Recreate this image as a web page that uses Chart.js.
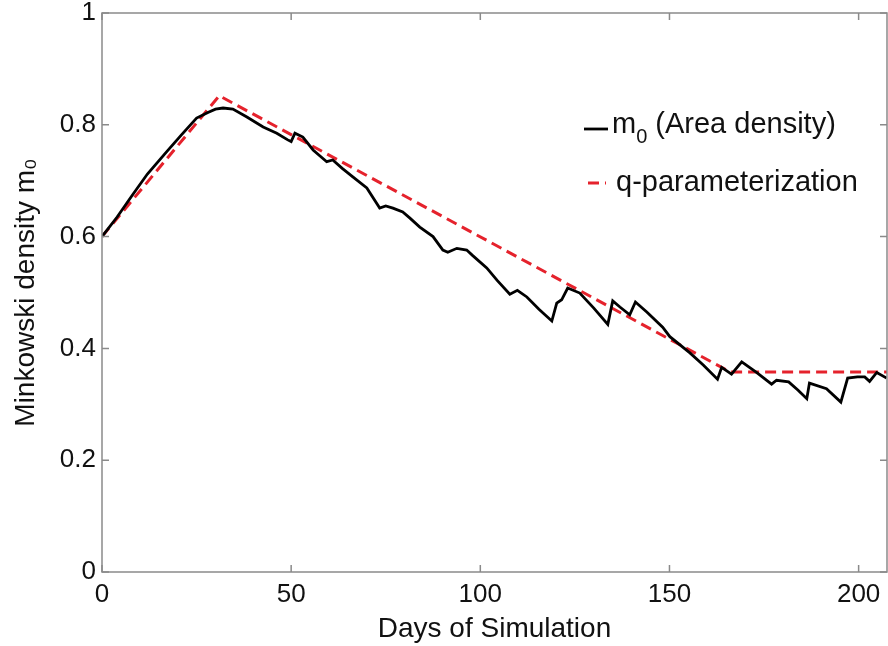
<!DOCTYPE html>
<html>
<head>
<meta charset="utf-8">
<script src="https://cdn.jsdelivr.net/npm/chart.js@4.4.1/dist/chart.umd.min.js"></script>
<style>
  html, body { margin: 0; padding: 0; background: #fff; }
  #wrap { width: 888px; height: 646px; position: relative; }
</style>
</head>
<body>
<div id="wrap"><canvas id="c" width="888" height="646"></canvas></div>
<script>
// ---- data ----
const days = [0, 4, 8, 12, 17, 21, 25, 28, 30, 32, 34.6, 38.3, 42.6, 46.2, 49.1, 50, 51, 53.1, 55.8, 59.4,
  61, 63.5, 66.3, 70, 73.4, 75, 76.9, 79.5, 81.4, 84, 87.5, 90.1, 91.4, 93.8, 96.4, 98, 101.7, 104.4,
  107.8, 109.8, 112.3, 115.5, 118.9, 120.2, 121.5, 123.1, 126.3, 130, 133.7, 135, 136.9, 139.5, 141,
  144, 148.2, 150.1, 155.4, 159, 162.7, 163.8, 166.4, 169.1, 173, 177, 178.3, 181.5, 184, 186.3, 187,
  191.5, 195.3, 197.1, 199.7, 201.6, 202.9, 204.8, 207.4];
const areaDensity = [0.600, 0.635, 0.674, 0.712, 0.751, 0.782, 0.812, 0.822, 0.828, 0.830, 0.828, 0.814,
  0.796, 0.785, 0.773, 0.770, 0.785, 0.778, 0.755, 0.734, 0.737, 0.722, 0.707, 0.687, 0.651, 0.655,
  0.651, 0.644, 0.633, 0.617, 0.600, 0.576, 0.572, 0.579, 0.576, 0.566, 0.544, 0.522, 0.497, 0.504,
  0.492, 0.470, 0.449, 0.481, 0.487, 0.508, 0.499, 0.472, 0.443, 0.485, 0.474, 0.460, 0.483, 0.465,
  0.438, 0.421, 0.392, 0.370, 0.345, 0.366, 0.354, 0.376, 0.357, 0.336, 0.343, 0.340, 0.325, 0.310,
  0.338, 0.328, 0.304, 0.347, 0.349, 0.349, 0.341, 0.357, 0.347];
const qDays = [0, 31, 166, 207.5];
const qValues = [0.600, 0.852, 0.358, 0.358];
const xTicks = [0, 50, 100, 150, 200];
const yTicks = [0, 0.2, 0.4, 0.6, 0.8, 1];
const seriesLabels = ['m₀ (Area density)', 'q-parameterization'];

const FONT = '"Liberation Sans", Arial, Helvetica, sans-serif';
const AXIS_COLOR = '#8a8a8a';

const boxAndLegend = {
  id: 'boxAndLegend',
  afterDraw(chart) {
    const ctx = chart.ctx;
    const a = chart.chartArea;
    const xs = chart.scales.x, ys = chart.scales.y;
    ctx.save();
    // frame
    ctx.strokeStyle = AXIS_COLOR;
    ctx.lineWidth = 1.5;
    ctx.strokeRect(a.left, a.top, a.right - a.left, a.bottom - a.top);
    // inward ticks
    const tl = 7;
    ctx.beginPath();
    xs.ticks.forEach(t => {
      const px = xs.getPixelForValue(t.value);
      ctx.moveTo(px, a.bottom); ctx.lineTo(px, a.bottom - tl);
      ctx.moveTo(px, a.top); ctx.lineTo(px, a.top + tl);
    });
    ys.ticks.forEach(t => {
      const py = ys.getPixelForValue(t.value);
      ctx.moveTo(a.left, py); ctx.lineTo(a.left + tl, py);
      ctx.moveTo(a.right, py); ctx.lineTo(a.right - tl, py);
    });
    ctx.stroke();

    // legend
    const lx = a.left + 482;
    const rows = [a.top + 115, a.top + 170];
    chart.data.datasets.forEach((ds, i) => {
      const y = rows[i];
      ctx.strokeStyle = ds.borderColor;
      ctx.lineWidth = ds.borderWidth;
      ctx.setLineDash(ds.borderDash || []);
      ctx.beginPath();
      if (i === 0) { ctx.moveTo(lx, y + 1); ctx.lineTo(lx + 24, y + 1); }
      else { ctx.moveTo(lx + 4, y); ctx.lineTo(lx + 22, y); }
      ctx.stroke();
      ctx.setLineDash([]);
      ctx.fillStyle = '#111';
      ctx.textBaseline = 'middle';
      ctx.textAlign = 'left';
      ctx.font = '29px ' + FONT;
      if (i === 0) {
        let x = lx + 28;
        ctx.fillText('m', x, y - 3);
        x += ctx.measureText('m').width;
        ctx.font = '20px ' + FONT;
        ctx.fillText('0', x, y + 9);
        x += ctx.measureText('0').width + 8;
        ctx.font = '29px ' + FONT;
        ctx.fillText('(Area density)', x, y - 3);
      } else {
        ctx.fillText(ds.label, lx + 32, y);
      }
    });
    ctx.restore();
  }
};

new Chart(document.getElementById('c'), {
  type: 'line',
  data: {
    datasets: [
      {
        label: seriesLabels[0],
        data: days.map((d, i) => ({ x: d, y: areaDensity[i] })),
        borderColor: '#000000',
        borderWidth: 2.8,
        pointRadius: 0,
        tension: 0,
        fill: false
      },
      {
        label: seriesLabels[1],
        data: qDays.map((d, i) => ({ x: d, y: qValues[i] })),
        borderColor: '#e5222c',
        borderWidth: 3,
        borderDash: [11, 6],
        pointRadius: 0,
        tension: 0,
        fill: false
      }
    ]
  },
  options: {
    responsive: false,
    animation: false,
    events: [],
    layout: { padding: { top: 13, right: 1, left: 0, bottom: 0 } },
    plugins: { legend: { display: false }, tooltip: { enabled: false } },
    scales: {
      x: {
        type: 'linear',
        min: 0,
        max: 207.5,
        border: { display: false },
        grid: { display: false, drawTicks: false },
        afterBuildTicks: s => { s.ticks = xTicks.map(v => ({ value: v })); },
        afterFit: s => { s.height = 74; s.paddingLeft = 0; s.paddingRight = 0; },
        ticks: {
          padding: 7,
          color: '#111',
          font: { family: FONT, size: 26 },
          maxRotation: 0,
          callback: v => String(v)
        },
        title: {
          display: true,
          text: 'Days of Simulation',
          color: '#111',
          font: { family: FONT, size: 28 },
          padding: { top: 0, bottom: 0 }
        }
      },
      y: {
        type: 'linear',
        min: 0,
        max: 1,
        border: { display: false },
        grid: { display: false, drawTicks: false },
        afterBuildTicks: s => { s.ticks = yTicks.map(v => ({ value: v })); },
        afterFit: s => { s.width = 102; s.paddingTop = 0; s.paddingBottom = 0; },
        ticks: {
          padding: 6,
          color: '#111',
          font: { family: FONT, size: 26 },
          callback: v => String(v)
        },
        title: {
          display: true,
          text: 'Minkowski density m₀',
          color: '#111',
          font: { family: FONT, size: 28 },
          padding: { top: 9, bottom: 0 }
        }
      }
    }
  },
  plugins: [boxAndLegend]
});
</script>
</body>
</html>
